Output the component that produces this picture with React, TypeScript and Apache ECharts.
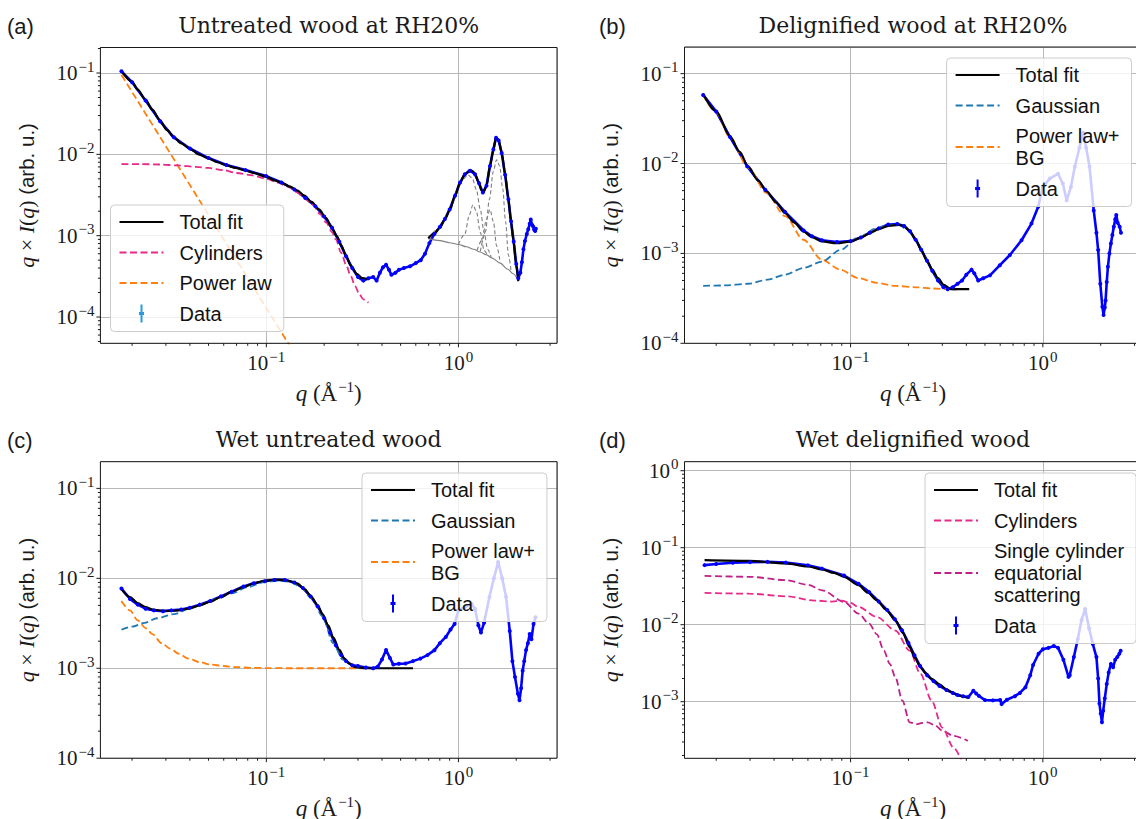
import React, { useEffect, useRef } from 'react';
import * as echarts from 'echarts';

type Pt = [number, number];

// Shared scattering-vector range of all four panels (Å^-1)
const Q_MIN = 0.01368;
const Q_MAX = 3.26;
const X_MAJOR = [0.1, 1];

// ---------------- (a) Untreated wood at RH20% ----------------
const A_Y_RANGE: Pt = [4.75e-5, 0.206];
const A_Y_MAJOR = [1e-4, 1e-3, 1e-2, 1e-1];
const A_DATA: Pt[] = [
  [0.0176, 0.105], [0.02, 0.077], [0.0235, 0.046], [0.028, 0.0255], [0.033, 0.0162], [0.04, 0.0118],
  [0.05, 0.009], [0.062, 0.0074], [0.078, 0.0064], [0.1, 0.0054], [0.12, 0.0045], [0.14, 0.0037],
  [0.16, 0.0029], [0.18, 0.0023], [0.2, 0.00172], [0.22, 0.00125], [0.24, 0.00084], [0.26, 0.00056],
  [0.28, 0.0004], [0.3, 0.00031], [0.32, 0.00028], [0.34, 0.0003], [0.36, 0.00031], [0.375, 0.00028],
  [0.39, 0.00035], [0.405, 0.00041], [0.42, 0.00044], [0.435, 0.00038], [0.448, 0.00033], [0.47, 0.00035],
  [0.49, 0.00038], [0.52, 0.0004], [0.56, 0.00042], [0.6, 0.00046], [0.636, 0.0005], [0.67, 0.0006],
  [0.706, 0.00081], [0.75, 0.00105], [0.8, 0.00128], [0.85, 0.0016], [0.9, 0.0021], [0.96, 0.0031],
  [1.02, 0.0045], [1.08, 0.0057], [1.15, 0.0063], [1.22, 0.0057], [1.28, 0.0044], [1.34, 0.0034],
  [1.4, 0.0041], [1.46, 0.0072], [1.52, 0.0115], [1.57, 0.016], [1.62, 0.0148], [1.68, 0.0104],
  [1.75, 0.0056], [1.82, 0.0028], [1.88, 0.0015], [1.94, 0.00085], [2.0, 0.00045], [2.05, 0.0003],
  [2.1, 0.00035], [2.14, 0.00047], [2.18, 0.00068], [2.22, 0.00086], [2.27, 0.00105], [2.31, 0.0012],
  [2.35, 0.0014], [2.38, 0.00158], [2.42, 0.00135], [2.45, 0.0013], [2.48, 0.00118], [2.51, 0.00114],
  [2.53, 0.00122],
];
const A_FIT_LOW: Pt[] = [
  [0.0176, 0.107], [0.02, 0.078], [0.0214, 0.0624], [0.0235, 0.047], [0.0255, 0.0354], [0.028, 0.026],
  [0.0303, 0.02], [0.033, 0.0162], [0.036, 0.0137], [0.04, 0.0117], [0.0448, 0.0099], [0.05, 0.0089],
  [0.0556, 0.008], [0.062, 0.0073], [0.0691, 0.0068], [0.078, 0.0063], [0.0859, 0.0059], [0.1, 0.0053],
  [0.11, 0.0048], [0.1216, 0.0044], [0.133, 0.004], [0.1445, 0.0036], [0.158, 0.0031], [0.172, 0.0026],
  [0.188, 0.0021], [0.2047, 0.00164], [0.22, 0.00122], [0.233, 0.00098], [0.246, 0.00075], [0.26, 0.00056],
  [0.275, 0.00043], [0.296, 0.00034], [0.315, 0.0003], [0.337, 0.00029],
];
const A_FIT_HIGH: Pt[] = [
  [0.697, 0.00093], [0.75, 0.00107], [0.802, 0.00126], [0.85, 0.0016], [0.904, 0.0021], [0.96, 0.0031],
  [1.019, 0.00448], [1.08, 0.0057], [1.15, 0.0064], [1.19, 0.0062], [1.22, 0.00575], [1.27, 0.0046],
  [1.32, 0.0036], [1.35, 0.0034], [1.4, 0.0041], [1.46, 0.0072], [1.52, 0.0115], [1.57, 0.0161],
  [1.62, 0.015], [1.68, 0.0105], [1.75, 0.0057], [1.82, 0.0028], [1.88, 0.00145], [1.93, 0.00089],
  [2.0, 0.00043], [2.05, 0.000276],
];
const A_CYLINDERS: Pt[] = [
  [0.0176, 0.0076], [0.022, 0.0076], [0.028, 0.0075], [0.035, 0.0073], [0.043, 0.007], [0.05, 0.0068],
  [0.06, 0.0064], [0.07, 0.0059], [0.085, 0.0055], [0.1, 0.005], [0.115, 0.0045], [0.13, 0.004],
  [0.145, 0.0034], [0.16, 0.0028], [0.175, 0.0024], [0.19, 0.00185], [0.205, 0.00145], [0.22, 0.0011],
  [0.23, 0.0009], [0.245, 0.00062], [0.26, 0.00044], [0.275, 0.00032], [0.29, 0.00024], [0.305, 0.00019],
  [0.32, 0.000165], [0.34, 0.00015],
];
const A_POWER_LAW: Pt[] = [
  [0.0176, 0.095], [0.022, 0.0407], [0.028, 0.0163], [0.035, 0.00696], [0.045, 0.00268], [0.055, 0.00125],
  [0.07, 0.0005], [0.085, 0.000239], [0.1, 0.000129], [0.115, 0.000076], [0.127, 0.000052], [0.135, 0.000041],
];
const A_BASELINE: Pt[] = [
  [0.697, 0.00092], [0.8, 0.00087], [0.9, 0.00082], [1.0, 0.00078], [1.1, 0.00073], [1.2, 0.00068],
  [1.3, 0.00063], [1.4, 0.00058], [1.5, 0.00053], [1.65, 0.00046], [1.8, 0.00039], [1.93, 0.00034],
  [2.05, 0.000276],
];
const A_PEAK_1: Pt[] = [
  [0.697, 0.00093], [0.8, 0.00125], [0.9, 0.002], [1.0, 0.0039], [1.06, 0.005], [1.12, 0.0056],
  [1.18, 0.0051], [1.24, 0.0037], [1.3, 0.0021], [1.36, 0.0011], [1.42, 0.00068], [1.48, 0.00055],
];
const A_PEAK_2: Pt[] = [
  [1.0, 0.00078], [1.08, 0.00105], [1.14, 0.0018], [1.19, 0.0024], [1.24, 0.002], [1.3, 0.0011],
  [1.36, 0.00066], [1.42, 0.00057],
];
const A_PEAK_3: Pt[] = [
  [1.3, 0.00064], [1.38, 0.0011], [1.45, 0.0028], [1.52, 0.0062], [1.58, 0.0086], [1.64, 0.0072],
  [1.7, 0.0038], [1.76, 0.0015], [1.82, 0.00058], [1.88, 0.00037],
];
const A_PEAK_4: Pt[] = [
  [1.25, 0.00066], [1.33, 0.0009], [1.4, 0.0016], [1.46, 0.0021], [1.52, 0.0015], [1.58, 0.00075],
  [1.65, 0.00047],
];

// ---------------- (b) Delignified wood at RH20% ----------------
const B_Y_RANGE: Pt = [1e-4, 0.198];
const B_Y_MAJOR = [1e-4, 1e-3, 1e-2, 1e-1];
const B_DATA: Pt[] = [
  [0.0171, 0.058], [0.02, 0.038], [0.0236, 0.0197], [0.029, 0.0093], [0.036, 0.0051], [0.0456, 0.0029],
  [0.057, 0.0018], [0.063, 0.00155], [0.071, 0.0014], [0.085, 0.00134], [0.1, 0.00137], [0.113, 0.0015],
  [0.126, 0.0017], [0.14, 0.0019], [0.157, 0.0021], [0.175, 0.00212], [0.19, 0.00202], [0.204, 0.00176],
  [0.218, 0.00142], [0.233, 0.0011], [0.25, 0.00083], [0.266, 0.00064], [0.285, 0.0005], [0.304, 0.00042],
  [0.32, 0.0004], [0.34, 0.00042], [0.36, 0.00046], [0.38, 0.0005], [0.4, 0.00058], [0.426, 0.00066],
  [0.44, 0.0006], [0.461, 0.0005], [0.49, 0.00053], [0.531, 0.00057], [0.598, 0.00074], [0.674, 0.00096],
  [0.775, 0.0014], [0.873, 0.00215], [0.946, 0.0033], [1.0, 0.0055], [1.087, 0.0068], [1.2, 0.0077],
  [1.27, 0.006], [1.33, 0.0039], [1.4, 0.0055], [1.466, 0.0092], [1.55, 0.015], [1.62, 0.022],
  [1.68, 0.015], [1.75, 0.0092], [1.84, 0.003], [1.9, 0.0017], [1.94, 0.00109], [1.99, 0.00046],
  [2.04, 0.000255], [2.07, 0.000207], [2.1, 0.00025], [2.12, 0.0003], [2.15, 0.00048], [2.18, 0.00071],
  [2.22, 0.001], [2.26, 0.00129], [2.3, 0.0016], [2.34, 0.00198], [2.38, 0.0024], [2.41, 0.00267],
  [2.45, 0.0022], [2.51, 0.00198], [2.55, 0.0017],
];
const B_FIT: Pt[] = [
  [0.0171, 0.0593], [0.02, 0.038], [0.0236, 0.02], [0.0265, 0.0135], [0.0293, 0.0093], [0.033, 0.0065],
  [0.0366, 0.0049], [0.041, 0.0037], [0.0456, 0.0028], [0.051, 0.0022], [0.0569, 0.00175], [0.063, 0.00152],
  [0.0709, 0.00136], [0.0846, 0.0013], [0.101, 0.00136], [0.113, 0.0015], [0.126, 0.00168], [0.14, 0.00186],
  [0.157, 0.00203], [0.179, 0.00208], [0.19, 0.002], [0.204, 0.00175], [0.218, 0.00142], [0.233, 0.00109],
  [0.25, 0.00082], [0.266, 0.00066], [0.285, 0.00053], [0.304, 0.00045], [0.332, 0.0004], [0.36, 0.0004],
  [0.414, 0.0004],
];
const B_GAUSSIAN: Pt[] = [
  [0.0171, 0.000435], [0.022, 0.00044], [0.0293, 0.00046], [0.037, 0.00051], [0.0456, 0.00058],
  [0.057, 0.00069], [0.0709, 0.00081], [0.0884, 0.00109], [0.11, 0.00151], [0.137, 0.00191], [0.16, 0.0021],
  [0.179, 0.00206], [0.2, 0.0018], [0.218, 0.00143], [0.233, 0.0011], [0.25, 0.00083], [0.266, 0.00066],
  [0.285, 0.00052], [0.304, 0.00044], [0.332, 0.0004], [0.36, 0.000395],
];
const B_POWER_BG: Pt[] = [
  [0.0171, 0.058], [0.02, 0.037], [0.0236, 0.0195], [0.0293, 0.009], [0.0366, 0.0047], [0.0456, 0.0026],
  [0.0569, 0.00142], [0.0709, 0.00085], [0.0884, 0.00066], [0.11, 0.00053], [0.137, 0.00047],
  [0.171, 0.000435], [0.22, 0.00042], [0.266, 0.000407], [0.332, 0.0004], [0.36, 0.000398],
];

// ---------------- (c) Wet untreated wood ----------------
const C_Y_RANGE: Pt = [1e-4, 0.198];
const C_Y_MAJOR = [1e-4, 1e-3, 1e-2, 1e-1];
const C_DATA: Pt[] = [
  [0.0176, 0.0077], [0.0195, 0.0059], [0.0214, 0.0051], [0.0235, 0.0046], [0.026, 0.0044], [0.029, 0.0043],
  [0.032, 0.0044], [0.036, 0.0045], [0.04, 0.0047], [0.045, 0.0051], [0.051, 0.0056], [0.058, 0.0063],
  [0.066, 0.0071], [0.076, 0.0081], [0.086, 0.0088], [0.098, 0.0093], [0.11, 0.0096], [0.125, 0.0096],
  [0.14, 0.009], [0.155, 0.0078], [0.17, 0.0063], [0.185, 0.0049], [0.2, 0.0036], [0.215, 0.0025],
  [0.23, 0.0018], [0.245, 0.0014], [0.26, 0.0012], [0.28, 0.00108], [0.3, 0.00106], [0.33, 0.00102],
  [0.36, 0.001], [0.38, 0.00104], [0.4, 0.00125], [0.42, 0.0016], [0.44, 0.0013], [0.458, 0.0011],
  [0.49, 0.00112], [0.53, 0.00113], [0.58, 0.0012], [0.633, 0.00128], [0.69, 0.0014], [0.75, 0.00159],
  [0.8, 0.0019], [0.86, 0.00223], [0.91, 0.0027], [0.955, 0.0031], [1.0, 0.0044], [1.08, 0.0048],
  [1.17, 0.0052], [1.22, 0.0046], [1.27, 0.003], [1.31, 0.0025], [1.36, 0.0032], [1.45, 0.0062],
  [1.53, 0.01], [1.61, 0.0152], [1.69, 0.01], [1.77, 0.0062], [1.85, 0.0026], [1.91, 0.0012],
  [1.97, 0.0008], [2.04, 0.00052], [2.08, 0.00044], [2.12, 0.0006], [2.16, 0.00094], [2.2, 0.0012],
  [2.25, 0.0016], [2.3, 0.0019], [2.35, 0.0024], [2.4, 0.0021], [2.46, 0.0031], [2.52, 0.0037],
];
const C_FIT: Pt[] = [
  [0.0176, 0.0076], [0.0195, 0.0062], [0.0214, 0.0053], [0.0235, 0.0048], [0.0255, 0.0045], [0.0285, 0.00438],
  [0.0316, 0.00434], [0.035, 0.0044], [0.0393, 0.0046], [0.045, 0.005], [0.051, 0.0055], [0.058, 0.0062],
  [0.0662, 0.0071], [0.076, 0.008], [0.0859, 0.0088], [0.098, 0.0094], [0.1115, 0.0097], [0.127, 0.0095],
  [0.1445, 0.0088], [0.158, 0.0076], [0.172, 0.0062], [0.185, 0.005], [0.196, 0.004], [0.21, 0.003],
  [0.223, 0.0022], [0.24, 0.0016], [0.255, 0.00128], [0.272, 0.00111], [0.29, 0.00103], [0.33, 0.001],
  [0.4, 0.001], [0.5, 0.001], [0.58, 0.001],
];
const C_GAUSSIAN: Pt[] = [
  [0.0176, 0.00268], [0.02, 0.0029], [0.0232, 0.0032], [0.027, 0.0036], [0.033, 0.004], [0.04, 0.0046],
  [0.0468, 0.0052], [0.055, 0.0059], [0.0662, 0.0068], [0.08, 0.008], [0.098, 0.0091], [0.115, 0.0094],
  [0.13, 0.0092], [0.15, 0.0082], [0.172, 0.006], [0.196, 0.0038], [0.223, 0.0019], [0.25, 0.00125],
  [0.29, 0.00103], [0.33, 0.001],
];
const C_POWER_BG: Pt[] = [
  [0.0176, 0.0056], [0.0195, 0.0044], [0.0214, 0.0034], [0.0235, 0.0028], [0.0255, 0.0024], [0.0285, 0.0019],
  [0.0316, 0.00165], [0.035, 0.00145], [0.0393, 0.00128], [0.045, 0.00117], [0.051, 0.0011], [0.06, 0.00106],
  [0.0691, 0.00103], [0.085, 0.00101], [0.1, 0.001005], [0.133, 0.001], [0.2, 0.001], [0.32, 0.001],
];

// ---------------- (d) Wet delignified wood ----------------
const D_Y_RANGE: Pt = [1.84e-4, 1.31];
const D_Y_MAJOR = [1e-3, 1e-2, 1e-1, 1];
const D_DATA: Pt[] = [
  [0.0174, 0.0594], [0.02, 0.0615], [0.0244, 0.0637], [0.03, 0.065], [0.037, 0.0655], [0.046, 0.064],
  [0.06, 0.059], [0.071, 0.0535], [0.0925, 0.0435], [0.11, 0.034], [0.125, 0.0265], [0.14, 0.02],
  [0.155, 0.0155], [0.17, 0.0118], [0.185, 0.0085], [0.2, 0.0058], [0.215, 0.004], [0.23, 0.0029],
  [0.25, 0.0022], [0.27, 0.00185], [0.29, 0.0016], [0.315, 0.00142], [0.34, 0.0013], [0.36, 0.00122],
  [0.385, 0.00118], [0.41, 0.00115], [0.435, 0.00139], [0.45, 0.00128], [0.465, 0.00119], [0.5, 0.00105],
  [0.55, 0.00104], [0.6, 0.00105], [0.61, 0.00093], [0.65, 0.00106], [0.716, 0.00118], [0.76, 0.0013],
  [0.812, 0.00154], [0.86, 0.0022], [0.89, 0.003], [0.95, 0.0042], [1.0, 0.0048], [1.07, 0.005],
  [1.14, 0.0053], [1.2, 0.005], [1.28, 0.0035], [1.36, 0.0021], [1.38, 0.0022], [1.45, 0.0038],
  [1.52, 0.0065], [1.59, 0.0115], [1.66, 0.016], [1.74, 0.009], [1.82, 0.0056], [1.9, 0.0038],
  [1.94, 0.002], [1.97, 0.00095], [2.0, 0.0007], [2.03, 0.00054], [2.06, 0.00076], [2.1, 0.0011],
  [2.15, 0.0017], [2.2, 0.0024], [2.26, 0.0031], [2.32, 0.0028], [2.38, 0.0035], [2.44, 0.0038],
  [2.5, 0.0042], [2.54, 0.0046],
];
const D_FIT: Pt[] = [
  [0.0174, 0.069], [0.0297, 0.0676], [0.046, 0.0625], [0.06, 0.057], [0.0711, 0.0522], [0.082, 0.047],
  [0.0925, 0.0419], [0.11, 0.0326], [0.123, 0.026], [0.137, 0.0208], [0.153, 0.0157], [0.171, 0.0114],
  [0.187, 0.0079], [0.203, 0.0051], [0.216, 0.0037], [0.231, 0.0028], [0.247, 0.00233], [0.264, 0.00198],
  [0.29, 0.00168], [0.314, 0.00146], [0.336, 0.00133], [0.358, 0.00123], [0.385, 0.00116], [0.408, 0.00112],
];
const D_CYLINDERS: Pt[] = [
  [0.0174, 0.0259], [0.0297, 0.0253], [0.046, 0.0234], [0.065, 0.0206], [0.08, 0.02], [0.09, 0.0205],
  [0.1, 0.0192], [0.11, 0.017], [0.137, 0.0126], [0.171, 0.0084], [0.203, 0.0046], [0.231, 0.0023],
  [0.264, 0.00103], [0.3, 0.00046], [0.343, 0.000254], [0.38, 0.000165],
];
const D_SINGLE_CYLINDER: Pt[] = [
  [0.0174, 0.0431], [0.0297, 0.0419], [0.046, 0.0379], [0.06, 0.033], [0.0711, 0.028], [0.0925, 0.0198],
  [0.11, 0.0139], [0.125, 0.0103], [0.137, 0.0075], [0.149, 0.00462], [0.16, 0.0031], [0.171, 0.00207],
  [0.186, 0.00103], [0.203, 0.00054], [0.22, 0.00051], [0.236, 0.00053], [0.252, 0.00054], [0.276, 0.00049],
  [0.3, 0.00042], [0.343, 0.00036], [0.407, 0.00031],
];

// ---------------- styling ----------------
const INK = '#1a1a1a';
const SERIF = "'Liberation Serif', 'DejaVu Serif', serif";
const TITLE_SERIF = "'DejaVu Serif', 'Liberation Serif', serif";
const SANS = "'Liberation Sans', Arial, sans-serif";
const COL_DATA = '#0000ff';
const COL_FIT = '#000000';
const COL_PINK = '#e7298a';
const COL_MAGENTA = '#c0208a';
const COL_ORANGE = '#ff7f0e';
const COL_BLUE = '#1f77b4';
const COL_GRAY = '#7f7f7f';
const DATA_ICON = 'path://M21,0h2v18h-2z M19.5,7.5h5v3h-5z';

const GRIDS = [
  { left: 100.4, top: 47.5, width: 456.6, height: 295.8 },
  { left: 684.5, top: 47.0, width: 457.0, height: 296.3 },
  { left: 100.4, top: 461.7, width: 456.6, height: 296.5 },
  { left: 684.5, top: 461.7, width: 457.0, height: 296.6 },
];

const TITLES = ['Untreated wood at RH20%', 'Delignified wood at RH20%', 'Wet untreated wood', 'Wet delignified wood'];
const PANEL_TAGS = ['(a)', '(b)', '(c)', '(d)'];

const SUP_RICH = {
  b: { fontFamily: SERIF, fontSize: 21, color: INK },
  s: { fontFamily: SERIF, fontSize: 15, color: INK, padding: [0, 0, 13, 1] },
};

const X_NAME_RICH = {
  i: { fontFamily: SERIF, fontStyle: 'italic', fontSize: 23, color: INK },
  m: { fontFamily: SERIF, fontSize: 23, color: INK },
  t: { fontFamily: SERIF, fontSize: 15, color: INK, padding: [0, 0, 14, 1] },
};

const Y_NAME_RICH = {
  i: { fontFamily: SERIF, fontStyle: 'italic', fontSize: 22, color: INK },
  m: { fontFamily: SERIF, fontSize: 22, color: INK },
  s: { fontFamily: SANS, fontSize: 20.5, color: INK },
};

const X_NAME = '{i|q}{m| (Å}{t|\u22121}{m|)}';
const Y_NAME = '{i|q}{m| \u00d7 }{i|I}{m|(}{i|q}{m|) }{s|(arb. u.)}';

function decadeLabel(v: number): string {
  const e = Math.log10(v);
  const r = Math.round(e);
  if (Math.abs(e - r) > 1e-6) return '';
  const exp = r < 0 ? '\u2212' + String(-r) : String(r);
  return '{b|10}{s|' + exp + '}';
}

function minors(lo: number, hi: number): number[] {
  const out: number[] = [];
  for (let e = Math.floor(Math.log10(lo)); e <= Math.ceil(Math.log10(hi)); e++) {
    for (let k = 2; k <= 9; k++) {
      const v = k * Math.pow(10, e);
      if (v > lo * 1.0001 && v < hi / 1.0001) out.push(v);
    }
  }
  return out;
}

function xAxisFor(i: number) {
  return {
    type: 'log', logBase: 10, gridIndex: i, min: Q_MIN, max: Q_MAX,
    axisLine: { show: false }, axisTick: { show: false },
    splitLine: { show: true, lineStyle: { color: '#b0b0b0', width: 0.9 } },
    axisLabel: { show: true, margin: 6, formatter: decadeLabel, rich: SUP_RICH },
    name: X_NAME, nameLocation: 'middle', nameGap: 36,
    nameTextStyle: { color: INK, fontFamily: SERIF, fontSize: 23, rich: X_NAME_RICH },
  };
}

function yAxisFor(i: number, range: Pt) {
  return {
    type: 'log', logBase: 10, gridIndex: i, min: range[0], max: range[1],
    axisLine: { show: false }, axisTick: { show: false },
    splitLine: { show: true, lineStyle: { color: '#b0b0b0', width: 0.9 } },
    axisLabel: { show: true, margin: 6, formatter: decadeLabel, rich: SUP_RICH },
    name: Y_NAME, nameLocation: 'middle', nameGap: 63, nameRotate: 90,
    nameTextStyle: { color: INK, fontFamily: SERIF, fontSize: 22, rich: Y_NAME_RICH },
  };
}

// Major and minor tick marks, drawn outward from the frame
function tickMarks(i: number, yRange: Pt, yMajor: number[]) {
  const data: number[][] = [];
  X_MAJOR.forEach((v) => data.push([v, yRange[0], 4, 0]));
  minors(Q_MIN, Q_MAX).forEach((v) => data.push([v, yRange[0], 2.5, 0]));
  yMajor.forEach((v) => data.push([Q_MIN, v, 4, 1]));
  minors(yRange[0], yRange[1]).forEach((v) => data.push([Q_MIN, v, 2.5, 1]));
  return {
    type: 'custom', xAxisIndex: i, yAxisIndex: i, silent: true, clip: false, z: 6,
    data,
    renderItem: (_params: any, api: any) => {
      const p = api.coord([api.value(0), api.value(1)]);
      const len = api.value(2);
      const onX = api.value(3) === 0;
      return {
        type: 'line',
        shape: onX
          ? { x1: p[0], y1: p[1], x2: p[0], y2: p[1] + len }
          : { x1: p[0], y1: p[1], x2: p[0] - len, y2: p[1] },
        style: { stroke: INK, lineWidth: 1 },
      };
    },
  };
}

function dataSeries(i: number, pts: Pt[]) {
  return {
    type: 'line', name: 'Data', xAxisIndex: i, yAxisIndex: i, data: pts,
    symbol: 'circle', symbolSize: 4, showSymbol: true,
    itemStyle: { color: COL_DATA }, lineStyle: { color: COL_DATA, width: 2.6 },
    silent: true, emphasis: { disabled: true },
  };
}

function curve(
  i: number, name: string | undefined, pts: Pt[], color: string, width: number,
  dash?: number[], smooth: number | boolean = 0.3,
) {
  return {
    type: 'line', name, xAxisIndex: i, yAxisIndex: i, data: pts,
    symbol: 'none', smooth, smoothMonotone: 'x',
    itemStyle: { color }, lineStyle: { color, width, type: dash ? dash : 'solid' },
    silent: true, emphasis: { disabled: true },
  };
}

function legend(items: any[], left: number, top: number) {
  return {
    show: true, orient: 'vertical', left, top, data: items, selectedMode: false,
    itemWidth: 44, itemHeight: 18, itemGap: 8.5,
    padding: [6, 12, 7, 8],
    // hide the marker that line series place in the middle of their legend line
    itemStyle: { opacity: 0 },
    backgroundColor: 'rgba(255,255,255,0.8)', borderColor: '#cccccc', borderWidth: 1, borderRadius: 4,
    textStyle: { fontFamily: SANS, fontSize: 20, color: '#111', lineHeight: 22, padding: [0, 0, 0, 11] },
  };
}

const DASH = [7, 3.5];
const FINE_DASH = [4, 2.5];

function buildOption() {
  const series: any[] = [
    // (a)
    dataSeries(0, A_DATA),
    curve(0, 'Power law', A_POWER_LAW, COL_ORANGE, 1.8, DASH, false),
    curve(0, 'Cylinders', A_CYLINDERS, COL_PINK, 1.8, DASH),
    curve(0, undefined, A_BASELINE, COL_GRAY, 1.1),
    curve(0, undefined, A_PEAK_1, COL_GRAY, 1.1, FINE_DASH),
    curve(0, undefined, A_PEAK_2, COL_GRAY, 1.1, FINE_DASH),
    curve(0, undefined, A_PEAK_3, COL_GRAY, 1.1, FINE_DASH),
    curve(0, undefined, A_PEAK_4, COL_GRAY, 1.1, FINE_DASH),
    curve(0, 'Total fit', A_FIT_LOW, COL_FIT, 2.2),
    curve(0, 'Total fit', A_FIT_HIGH, COL_FIT, 2.2),
    tickMarks(0, A_Y_RANGE, A_Y_MAJOR),
    // (b)
    dataSeries(1, B_DATA),
    curve(1, 'Power law+\nBG', B_POWER_BG, COL_ORANGE, 1.8, DASH),
    curve(1, 'Gaussian', B_GAUSSIAN, COL_BLUE, 1.8, DASH),
    curve(1, 'Total fit', B_FIT, COL_FIT, 2.2),
    tickMarks(1, B_Y_RANGE, B_Y_MAJOR),
    // (c)
    dataSeries(2, C_DATA),
    curve(2, 'Power law+\nBG', C_POWER_BG, COL_ORANGE, 1.8, DASH),
    curve(2, 'Gaussian', C_GAUSSIAN, COL_BLUE, 1.8, DASH),
    curve(2, 'Total fit', C_FIT, COL_FIT, 2.2),
    tickMarks(2, C_Y_RANGE, C_Y_MAJOR),
    // (d)
    dataSeries(3, D_DATA),
    curve(3, 'Single cylinder\nequatorial\nscattering', D_SINGLE_CYLINDER, COL_MAGENTA, 1.8, DASH),
    curve(3, 'Cylinders', D_CYLINDERS, COL_PINK, 1.8, DASH),
    curve(3, 'Total fit', D_FIT, COL_FIT, 2.2),
    tickMarks(3, D_Y_RANGE, D_Y_MAJOR),
  ];

  const dataItem = (color: string) => ({
    name: 'Data', icon: DATA_ICON, itemStyle: { opacity: 1, color, borderWidth: 0 },
  });

  const graphic: any[] = [];
  GRIDS.forEach((g, i) => {
    graphic.push({
      type: 'rect', silent: true, z: 10,
      shape: { x: g.left, y: g.top, width: g.width, height: g.height },
      style: { fill: 'none', stroke: INK, lineWidth: 1 },
    });
    const titleY = i < 2 ? 25 : 439;
    graphic.push({
      type: 'text', silent: true, z: 10, x: g.left + g.width / 2, y: titleY,
      style: { text: TITLES[i], fill: INK, fontFamily: TITLE_SERIF, fontSize: 22, align: 'center', verticalAlign: 'middle' },
    });
    graphic.push({
      type: 'text', silent: true, z: 10, x: i % 2 === 0 ? 7 : 599, y: titleY + 1,
      style: { text: PANEL_TAGS[i], fill: INK, fontFamily: SANS, fontSize: 22, align: 'left', verticalAlign: 'middle' },
    });
  });

  return {
    animation: false,
    backgroundColor: '#ffffff',
    grid: GRIDS.map((g) => ({ ...g, show: false, containLabel: false, outerBoundsMode: 'none' })),
    xAxis: GRIDS.map((_, i) => xAxisFor(i)),
    yAxis: [
      yAxisFor(0, A_Y_RANGE),
      yAxisFor(1, B_Y_RANGE),
      yAxisFor(2, C_Y_RANGE),
      yAxisFor(3, D_Y_RANGE),
    ],
    legend: [
      legend(['Total fit', 'Cylinders', 'Power law', dataItem('#2a9ae0')], 110.5, 205),
      legend(['Total fit', 'Gaussian', 'Power law+\nBG', dataItem(COL_DATA)], 946.6, 58),
      legend(['Total fit', 'Gaussian', 'Power law+\nBG', dataItem(COL_DATA)], 362, 473),
      legend(['Total fit', 'Cylinders', 'Single cylinder\nequatorial\nscattering', dataItem(COL_DATA)], 925, 473),
    ],
    graphic,
    series,
  };
}

export default function App() {
  const ref = useRef<HTMLDivElement>(null);
  useEffect(() => {
    if (!ref.current) return;
    const chart = echarts.init(ref.current, null, { renderer: 'svg' });
    chart.setOption(buildOption() as any);
    return () => chart.dispose();
  }, []);
  return (
    <div
      ref={ref}
      style={{ position: 'absolute', left: 0, top: 0, width: 1136, height: 819, background: '#ffffff' }}
    />
  );
}
